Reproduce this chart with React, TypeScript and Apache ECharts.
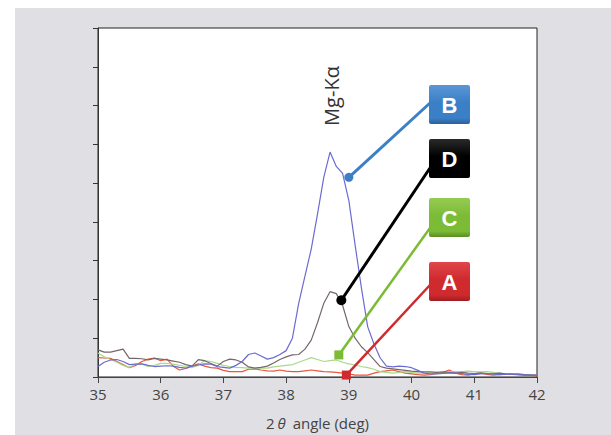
import React, { useEffect, useRef } from "react";
import * as echarts from "echarts";

const angles = [
  35.0, 35.1, 35.2, 35.3, 35.4, 35.5, 35.6, 35.7, 35.8, 35.9,
  36.0, 36.1, 36.2, 36.3, 36.4, 36.5, 36.6, 36.7, 36.8, 36.9,
  37.0, 37.1, 37.2, 37.3, 37.4, 37.5, 37.6, 37.7, 37.8, 37.9,
  38.0, 38.1, 38.2, 38.3, 38.4, 38.5, 38.6, 38.7, 38.8, 38.9,
  39.0, 39.1, 39.2, 39.3, 39.4, 39.5, 39.6, 39.7, 39.8, 39.9,
  40.0, 40.1, 40.2, 40.3, 40.4, 40.5, 40.6, 40.7, 40.8, 40.9,
  41.0, 41.1, 41.2, 41.3, 41.4, 41.5, 41.6, 41.7, 41.8, 41.9,
  42.0,
];

const seriesA = [
  0.50, 0.49, 0.48, 0.40, 0.32, 0.24, 0.30, 0.40, 0.46, 0.49,
  0.42, 0.46, 0.28, 0.18, 0.22, 0.28, 0.34, 0.28, 0.24, 0.23,
  0.17, 0.14, 0.14, 0.14, 0.20, 0.21, 0.18, 0.16, 0.15, 0.18,
  0.15, 0.14, 0.14, 0.16, 0.18, 0.16, 0.14, 0.13, 0.12, 0.10,
  0.08, 0.05, 0.05, 0.05, 0.10, 0.14, 0.16, 0.18, 0.14, 0.10,
  0.08, 0.06, 0.05, 0.06, 0.09, 0.12, 0.18, 0.10, 0.06, 0.05,
  0.08, 0.10, 0.07, 0.05, 0.06, 0.08, 0.07, 0.06, 0.05, 0.04,
  0.03,
];

const seriesB = [
  0.27, 0.38, 0.44, 0.45, 0.40, 0.32, 0.33, 0.34, 0.30, 0.27,
  0.28, 0.29, 0.28, 0.25, 0.23, 0.28, 0.31, 0.34, 0.33, 0.27,
  0.25, 0.23, 0.30, 0.40, 0.58, 0.62, 0.54, 0.46, 0.50, 0.58,
  0.68, 1.00, 1.90, 2.60, 3.30, 4.20, 5.15, 5.80, 5.43, 5.25,
  4.55, 3.40, 2.30, 1.30, 0.85, 0.49, 0.28, 0.26, 0.28, 0.27,
  0.24, 0.17, 0.10, 0.08, 0.08, 0.09, 0.10, 0.10, 0.09, 0.07,
  0.06, 0.08, 0.09, 0.08, 0.06, 0.07, 0.08, 0.06, 0.05, 0.05,
  0.04,
];

const seriesC = [
  0.62, 0.52, 0.45, 0.38, 0.30, 0.25, 0.33, 0.33, 0.27, 0.30,
  0.35, 0.35, 0.33, 0.30, 0.27, 0.25, 0.30, 0.42, 0.40, 0.35,
  0.30, 0.27, 0.25, 0.24, 0.23, 0.23, 0.23, 0.23, 0.26, 0.28,
  0.30, 0.32, 0.38, 0.44, 0.50, 0.45, 0.40, 0.42, 0.44, 0.38,
  0.34, 0.31, 0.27, 0.24, 0.20, 0.14, 0.12, 0.10, 0.12, 0.14,
  0.12, 0.10, 0.10, 0.11, 0.12, 0.10, 0.13, 0.14, 0.14, 0.15,
  0.14, 0.13, 0.14, 0.12, 0.10, 0.08, 0.07, 0.06, 0.06, 0.05,
  0.05,
];

const seriesD = [
  0.70, 0.64, 0.64, 0.68, 0.72, 0.48, 0.48, 0.47, 0.44, 0.48,
  0.46, 0.44, 0.41, 0.38, 0.32, 0.28, 0.45, 0.42, 0.35, 0.28,
  0.40, 0.46, 0.44, 0.38, 0.26, 0.23, 0.25, 0.28, 0.36, 0.45,
  0.52, 0.57, 0.58, 0.72, 0.95, 1.40, 1.90, 2.20, 2.15, 1.85,
  1.30, 1.00, 0.78, 0.63, 0.45, 0.27, 0.23, 0.21, 0.19, 0.17,
  0.15, 0.14, 0.13, 0.13, 0.12, 0.13, 0.12, 0.10, 0.12, 0.10,
  0.09, 0.11, 0.09, 0.08, 0.10, 0.08, 0.07, 0.08, 0.06, 0.05,
  0.05,
];

const xTickLabels = ["35", "36", "37", "38", "39", "40", "41", "42"];
const peakLabel = "Mg-Kα";
const markerNames = ["B", "D", "C", "A"];
const markerPoints: [number, number][] = [
  [39.0, 5.15],
  [38.88, 1.98],
  [38.84, 0.57],
  [38.96, 0.05],
];

const lineColors: Record<string, string> = {
  A: "#e8573e",
  B: "#6b6bd2",
  C: "#a9d98c",
  D: "#74676a",
};
const markColors: Record<string, string> = {
  A: "#cf2a2e",
  B: "#3b7fc6",
  C: "#7cbb36",
  D: "#000000",
};
const boxLight: Record<string, string> = {
  A: "#e0464a",
  B: "#5a96d6",
  C: "#95cc52",
  D: "#2a2a2a",
};
const boxDark: Record<string, string> = {
  A: "#9e1c20",
  B: "#2b5f99",
  C: "#5a8c24",
  D: "#000000",
};
const boxTops: Record<string, number> = { B: 85, D: 139, C: 198, A: 262 };
const lineEndY: Record<string, number> = { B: 103, D: 168, C: 228, A: 285 };

const FONT = "'Open Sans', 'Noto Sans', sans-serif";

export default function App() {
  const ref = useRef<HTMLDivElement>(null);
  useEffect(() => {
    const chart = echarts.init(ref.current!, null, { renderer: "svg" });
    const mk = (name: string, vals: number[]) => ({
      type: "line",
      name,
      data: angles.map((a, i) => [a, vals[i]]),
      showSymbol: false,
      symbol: "none",
      lineStyle: { color: lineColors[name], width: 1.2 },
      z: 2,
    });
    chart.setOption({
      animation: false,
      grid: {
        left: 98,
        right: 74,
        top: 28,
        bottom: 58,
        show: true,
        backgroundColor: "#ffffff",
        borderColor: "#222",
        borderWidth: 1,
      },
      xAxis: {
        type: "value",
        min: 35,
        max: 42,
        interval: 1,
        axisLine: { show: true, lineStyle: { color: "#444", width: 1 } },
        axisTick: { show: true, inside: false, length: 6, lineStyle: { color: "#444" } },
        axisLabel: {
          fontSize: 15,
          color: "#444",
          margin: 9,
          fontFamily: FONT,
          formatter: (v: number) => xTickLabels[Math.round(v - 35)] ?? "",
        },
        splitLine: { show: false },
        name: "2{i|θ} angle (deg)",
        nameLocation: "middle",
        nameGap: 38,
        nameTextStyle: {
          fontSize: 15,
          color: "#444",
          fontFamily: FONT,
          rich: { i: { fontStyle: "italic", fontSize: 15, color: "#444", fontFamily: FONT, padding: [0, 3, 0, 3] } },
        },
      },
      yAxis: {
        type: "value",
        min: 0,
        max: 9,
        interval: 1,
        axisLine: { show: true, lineStyle: { color: "#333", width: 1 } },
        axisTick: { show: true, inside: false, length: 5, lineStyle: { color: "#333" } },
        axisLabel: { show: false },
        splitLine: { show: false },
      },
      series: [
        mk("A", seriesA),
        mk("C", seriesC),
        mk("D", seriesD),
        mk("B", seriesB),
      ],
    });

    const pix = markerPoints.map((p) => chart.convertToPixel({ gridIndex: 0 }, p) as number[]);
    const graphic: any[] = [];
    markerNames.forEach((n, i) => {
      const [px, py] = pix[i];
      const c = markColors[n];
      graphic.push({
        type: "line",
        shape: { x1: px, y1: py, x2: 430, y2: lineEndY[n] },
        style: { stroke: c, lineWidth: n === "B" || n === "D" ? 3 : 2.5 },
        z: 10,
      });
      if (n === "B" || n === "D") {
        graphic.push({
          type: "circle",
          shape: { cx: px, cy: py, r: n === "D" ? 5 : 4.5 },
          style: { fill: c },
          z: 11,
        });
      } else {
        graphic.push({
          type: "rect",
          shape: { x: px - 4.5, y: py - 4.5, width: 9, height: 9 },
          style: { fill: c },
          z: 11,
        });
      }
      const top = boxTops[n];
      graphic.push({
        type: "rect",
        shape: { x: 429, y: top, width: 41, height: 39, r: 2 },
        style: {
          fill: new echarts.graphic.LinearGradient(0, 0, 0, 1, [
            { offset: 0, color: boxLight[n] },
            { offset: 0.45, color: c },
            { offset: 0.85, color: c },
            { offset: 1, color: boxDark[n] },
          ]),
        },
        z: 12,
      });
      graphic.push({
        type: "text",
        x: 449.5,
        y: top + 20,
        style: {
          text: n,
          fill: "#ffffff",
          font: "bold 22px 'Liberation Sans', Arial, sans-serif",
          align: "center",
          verticalAlign: "middle",
        },
        z: 13,
      });
    });
    graphic.push({
      type: "text",
      x: 331,
      y: 96,
      rotation: Math.PI / 2,
      style: {
        text: peakLabel,
        fill: "#333",
        font: "20px " + FONT,
        align: "center",
        verticalAlign: "middle",
      },
      z: 13,
    });
    chart.setOption({ graphic });
    return () => chart.dispose();
  }, []);
  return (
    <div style={{ position: "fixed", left: 0, top: 0, width: 611, height: 435, background: "#ffffff" }}>
      <div style={{ position: "absolute", left: 15, top: 8, right: 0, bottom: 0, background: "#e0e0e4" }} />
      <div ref={ref} style={{ position: "absolute", left: 0, top: 0, width: 611, height: 435 }} />
    </div>
  );
}
